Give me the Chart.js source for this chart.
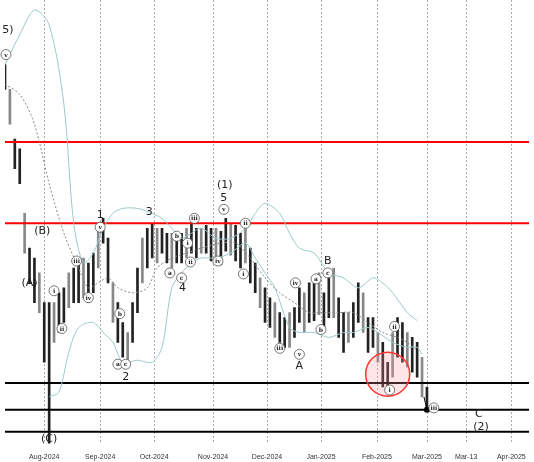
<!DOCTYPE html>
<html><head><meta charset="utf-8">
<script src="https://cdn.jsdelivr.net/npm/chart.js@4"></script>
<style>html,body{margin:0;padding:0;background:#fff}#w{width:534px;height:462px}</style>
</head><body><div id="w"><canvas id="c"></canvas></div>
<script>
// x in pixel-like units, y in chart-depth units (reversed)
const barHigh=[60,85,135,145,210,245,255,270,300,300,300,290,285,270,265,260,255,260,250,225,215,235,280,300,320,330,300,265,235,225,220,225,225,230,230,230,230,225,220,225,225,222,225,225,228,215,220,222,230,225,245,260,275,285,295,300,310,315,310,305,285,290,280,275,270,290,275,265,295,310,310,300,280,290,315,315,330,340,360,330,315,320,330,335,340,355,385];
const barLow=[85,120,165,180,250,280,300,310,360,445,340,330,320,305,300,300,295,300,290,265,240,280,320,340,355,365,340,310,280,265,255,260,250,260,265,260,260,255,250,255,250,250,258,255,262,248,252,258,265,260,280,290,305,320,325,335,340,345,345,335,320,330,320,318,312,330,315,315,335,350,340,335,320,330,350,345,360,385,390,375,355,360,365,370,375,395,410];
const bbUpper=[[0,60],[15,30],[30,5],[45,20],[60,100],[70,220],[80,260],[90,250],[100,225],[110,210],[120,205],[135,205],[150,210],[160,215],[170,225],[180,235],[190,230],[200,225],[215,235],[230,235],[245,225],[255,210],[265,200],[280,210],[290,230],[300,245],[315,250],[330,270],[345,275],[360,285],[375,275],[385,280],[395,290],[410,310],[420,318]];
const bbMid=[[0,80],[15,90],[30,120],[45,180],[60,230],[75,265],[85,285],[95,280],[105,275],[115,285],[130,290],[145,285],[155,265],[170,255],[185,250],[200,245],[220,240],[235,240],[250,255],[265,275],[280,290],[295,300],[310,310],[320,310],[340,310],[355,310],[370,320],[385,330],[400,335],[410,340],[420,348]];
const bbLower=[[45,395],[55,390],[65,350],[75,325],[90,320],[100,330],[110,340],[120,360],[135,358],[150,360],[160,345],[170,285],[180,270],[190,260],[200,255],[215,255],[230,250],[245,240],[255,255],[265,270],[275,285],[290,325],[300,330],[315,330],[330,335],[345,330],[355,330],[370,325],[380,330],[395,340],[410,345],[420,345],[425,352]];
const redLevels=[138,220];
const blackLevels=[381,408,430];
const monthTicks=[[40,'Aug-2024'],[97,'Sep-2024'],[152,'Oct-2024'],[212,'Nov-2024'],[267,'Dec-2024'],[322,'Jan-2025'],[379,'Feb-2025'],[430,'Mar-2025'],[470,'Mar-13'],[516,'Apr-2025']];
const waveText=[['(B)',38,228],['(A)',25,280],['(C)',45,438],['1',97,212],['2',123,375],['3',147,209],['4',181,285],['(1)',224,182],['5',223,195],['A',300,364],['B',329,258],['C',483,412],['(2)',485,425],['5)',3,25]];
const waveCircled=[['i',50,288],['ii',58,326],['iii',73,258],['iv',85,295],['v',97,224],['b',117,311],['a',115,362],['c',123,362],['a',168,270],['b',175,233],['c',180,275],['i',186,240],['ii',189,259],['iii',193,215],['iv',217,258],['v',223,206],['ii',245,220],['i',243,271],['iii',280,346],['iv',296,280],['v',300,352],['a',317,276],['c',329,270],['b',322,327],['ii',397,324],['i',392,388],['iii',437,406],['v',1,50]];

const S=5;
const bars=barHigh.map((h,i)=>({x:i*S,y:[barLow[i],h]}));
const pts=a=>a.map(p=>({x:p[0],y:p[1]}));
const hline=(v)=>[{x:0,y:v},{x:534,y:v}];
const ds=[{type:'bar',data:bars,backgroundColor:barHigh.map((_,i)=>i%3===1?'#888':'#222'),barThickness:2,order:3}];
ds.push({type:'line',data:pts(bbUpper),borderColor:'#9cc9c9',borderWidth:1,pointRadius:0,tension:0.3});
ds.push({type:'line',data:pts(bbMid),borderColor:'#888',borderWidth:1,borderDash:[2,2],pointRadius:0,tension:0.3});
ds.push({type:'line',data:pts(bbLower),borderColor:'#9cc9c9',borderWidth:1,pointRadius:0,tension:0.3});
redLevels.forEach(v=>ds.push({type:'line',data:hline(v),borderColor:'#f00',borderWidth:2,pointRadius:0}));
blackLevels.forEach(v=>ds.push({type:'line',data:hline(v),borderColor:'#000',borderWidth:2,pointRadius:0}));
ds.push({type:'line',data:[{x:427,y:395},{x:430,y:408}],borderColor:'#000',borderWidth:1,pointRadius:[0,3],pointStyle:'rect',pointBackgroundColor:'#000'});

const grid={id:'grid',beforeDatasetsDraw(ch){
 const c=ch.ctx,x=ch.scales.x,a=ch.chartArea;
 c.save();c.strokeStyle='#aaa';c.lineWidth=1;c.setLineDash([2,2]);
 monthTicks.forEach(m=>{const px=Math.round(x.getPixelForValue(m[0]))+0.5;c.beginPath();c.moveTo(px,0);c.lineTo(px,a.bottom);c.stroke();});
 c.restore();}};
const deco={id:'deco',afterDatasetsDraw(ch){
 const c=ch.ctx,x=ch.scales.x,y=ch.scales.y;
 c.save();
 c.strokeStyle='#f33';c.fillStyle='rgba(255,150,150,0.25)';c.lineWidth=1.5;
 c.beginPath();c.arc(x.getPixelForValue(390),y.getPixelForValue(372),22,0,7);c.fill();c.stroke();
 c.textAlign='center';c.textBaseline='middle';c.fillStyle='#222';
 c.font='11px "DejaVu Sans"';
 waveText.forEach(t=>c.fillText(t[0],x.getPixelForValue(t[1]),y.getPixelForValue(t[2])));
 c.font='bold 6px "DejaVu Serif"';
 waveCircled.forEach(t=>{const px=x.getPixelForValue(t[1]),py=y.getPixelForValue(t[2]);
  c.beginPath();c.arc(px,py,5,0,7);c.fillStyle='#fff';c.fill();c.strokeStyle='#555';c.lineWidth=0.8;c.stroke();
  c.fillStyle='#222';c.fillText(t[0],px,py+0.5);});
 c.restore();}};

new Chart(document.getElementById('c'),{data:{datasets:ds},plugins:[grid,deco],
 options:{responsive:true,maintainAspectRatio:false,animation:false,layout:{padding:{left:-5,right:0,top:0,bottom:0}},
 plugins:{legend:{display:false},tooltip:{enabled:false}},
 scales:{x:{type:'linear',min:0,max:534,offset:false,
   afterBuildTicks(s){s.ticks=monthTicks.map(m=>({value:m[0]}));},
   ticks:{autoSkip:false,maxRotation:0,font:{size:7},color:'#333',padding:1,
     callback:(v)=>{const m=monthTicks.find(t=>t[0]===v);return m?m[1]:'';}},
   grid:{display:false},border:{display:false}},
  y:{display:false,reverse:true,min:0,max:442}}}});
</script></body></html>
